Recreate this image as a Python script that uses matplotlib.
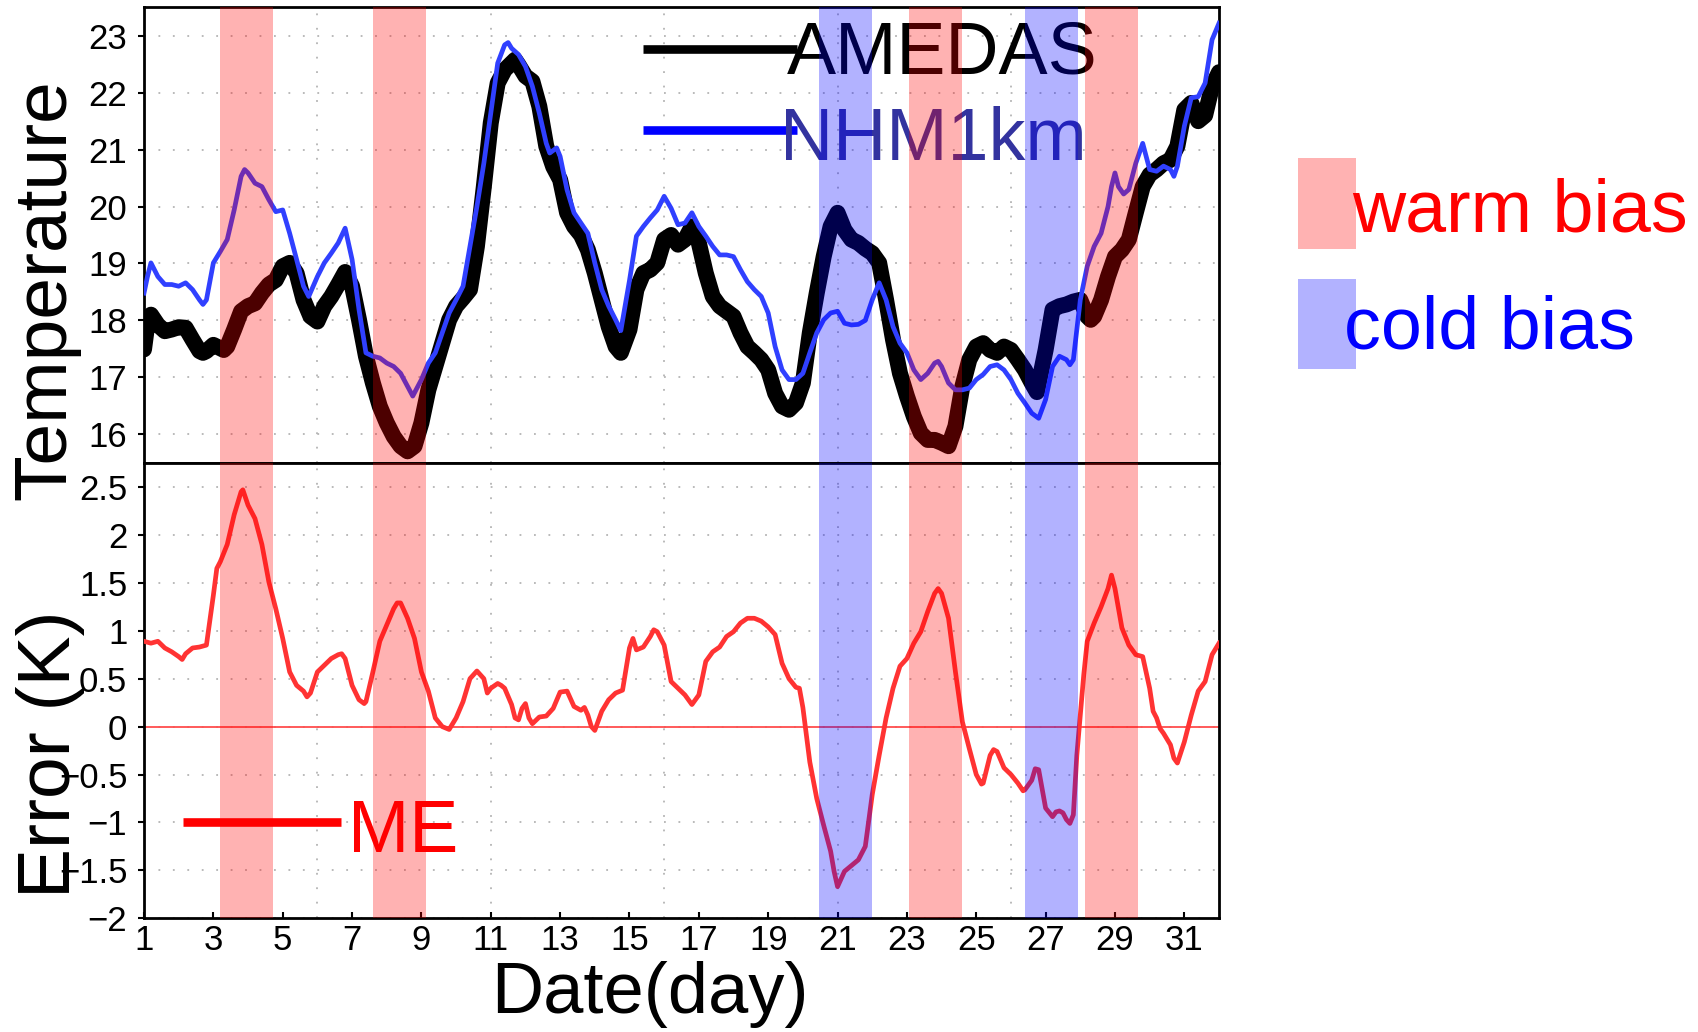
import matplotlib
matplotlib.use("Agg")
import matplotlib.pyplot as plt
from matplotlib.patches import Rectangle
from matplotlib.ticker import FuncFormatter

plt.rcParams['font.family'] = ['Liberation Sans', 'DejaVu Sans']
plt.rcParams['axes.unicode_minus'] = True

# ---- observed temperature (AMEDAS) ----
amedas_day = [1.0, 1.1, 1.2, 1.4, 1.6, 1.8, 2.0, 2.2, 2.4, 2.6, 2.7, 2.8, 3.0, 3.2, 3.3, 3.4,
              3.6, 3.8, 4.0, 4.2, 4.4, 4.6, 4.8, 5.0, 5.2, 5.4, 5.6, 5.8, 6.0, 6.2, 6.4, 6.6,
              6.8, 7.0, 7.2, 7.4, 7.6, 7.8, 8.0, 8.2, 8.4, 8.6, 8.8, 9.0, 9.2, 9.4, 9.6, 9.8,
              10.0, 10.2, 10.4, 10.6, 10.8, 11.0, 11.2, 11.4, 11.6, 11.7, 11.8, 12.0, 12.2,
              12.4, 12.6, 12.8, 13.0, 13.2, 13.4, 13.6, 13.8, 14.0, 14.2, 14.4, 14.6, 14.75,
              15.0, 15.2, 15.4, 15.6, 15.8, 16.0, 16.2, 16.4, 16.6, 16.8, 17.0, 17.2, 17.4,
              17.6, 17.8, 18.0, 18.2, 18.4, 18.6, 18.8, 19.0, 19.2, 19.4, 19.6, 19.8, 20.0,
              20.2, 20.4, 20.6, 20.8, 21.0, 21.2, 21.4, 21.6, 21.8, 22.0, 22.2, 22.4, 22.6,
              22.8, 23.0, 23.2, 23.4, 23.6, 23.8, 24.0, 24.2, 24.4, 24.6, 24.8, 25.0, 25.2,
              25.4, 25.6, 25.8, 26.0, 26.2, 26.4, 26.6, 26.75, 27.0, 27.2, 27.4, 27.6, 27.8,
              28.0, 28.2, 28.3, 28.4, 28.6, 28.8, 29.0, 29.2, 29.4, 29.6, 29.8, 30.0, 30.2,
              30.4, 30.6, 30.8, 31.0, 31.2, 31.4, 31.6, 31.8, 32.0]
amedas_temp = [17.49, 17.95, 18.10, 17.92, 17.81, 17.84, 17.88, 17.87, 17.66, 17.46, 17.43, 17.46,
               17.57, 17.51, 17.48, 17.54, 17.84, 18.16, 18.25, 18.30, 18.48, 18.63, 18.71, 18.95,
               19.01, 18.83, 18.36, 18.07, 17.98, 18.25, 18.42, 18.63, 18.85, 18.60, 18.01, 17.37,
               16.90, 16.49, 16.20, 15.96, 15.79, 15.70, 15.79, 16.20, 16.78, 17.19, 17.60, 18.01,
               18.25, 18.39, 18.54, 19.30, 20.35, 21.47, 22.17, 22.40, 22.52, 22.58, 22.49, 22.29,
               22.20, 21.76, 21.06, 20.70, 20.47, 19.89, 19.65, 19.50, 19.24, 18.83, 18.36, 17.89,
               17.54, 17.43, 17.84, 18.54, 18.83, 18.89, 19.01, 19.42, 19.50, 19.33, 19.42, 19.65,
               19.36, 18.83, 18.42, 18.25, 18.16, 18.07, 17.78, 17.54, 17.43, 17.31, 17.13, 16.72,
               16.49, 16.43, 16.55, 16.90, 17.78, 18.48, 19.12, 19.65, 19.89, 19.59, 19.42, 19.36,
               19.26, 19.18, 19.01, 18.36, 17.66, 17.07, 16.67, 16.31, 16.02, 15.90, 15.90, 15.85,
               15.79, 16.14, 16.84, 17.31, 17.54, 17.60, 17.48, 17.43, 17.54, 17.48, 17.31, 17.13,
               16.90, 16.74, 17.48, 18.19, 18.25, 18.28, 18.33, 18.36, 18.07, 18.01, 18.07, 18.36,
               18.77, 19.12, 19.24, 19.42, 19.89, 20.35, 20.56, 20.65, 20.76, 20.82, 21.06, 21.70,
               21.82, 21.50, 21.60, 22.11, 22.36]

# ---- model temperature (NHM 1km) ----
nhm_day = [1.0, 1.1, 1.2, 1.4, 1.6, 1.8, 2.0, 2.2, 2.4, 2.6, 2.7, 2.8, 3.0, 3.2, 3.4, 3.6, 3.8,
           3.9, 4.0, 4.2, 4.4, 4.6, 4.8, 5.0, 5.2, 5.4, 5.6, 5.75, 6.0, 6.2, 6.4, 6.6, 6.8, 7.0,
           7.2, 7.4, 7.6, 7.8, 8.0, 8.2, 8.4, 8.6, 8.75, 9.0, 9.2, 9.4, 9.6, 9.8, 10.0, 10.2,
           10.4, 10.6, 10.8, 11.0, 11.2, 11.4, 11.5, 11.6, 11.8, 12.0, 12.2, 12.4, 12.6, 12.7,
           12.9, 13.0, 13.2, 13.4, 13.6, 13.8, 14.0, 14.2, 14.4, 14.6, 14.75, 15.0, 15.2, 15.4,
           15.6, 15.8, 16.0, 16.2, 16.4, 16.6, 16.8, 17.0, 17.2, 17.4, 17.6, 17.8, 18.0, 18.2,
           18.4, 18.6, 18.8, 19.0, 19.2, 19.4, 19.6, 19.8, 20.0, 20.2, 20.4, 20.6, 20.8, 21.0,
           21.2, 21.4, 21.6, 21.8, 22.0, 22.2, 22.4, 22.6, 22.8, 23.0, 23.2, 23.4, 23.6, 23.8,
           23.9, 24.0, 24.2, 24.4, 24.6, 24.8, 25.0, 25.2, 25.4, 25.6, 25.8, 26.0, 26.2, 26.4,
           26.6, 26.8, 27.0, 27.2, 27.4, 27.6, 27.7, 27.8, 28.0, 28.2, 28.4, 28.6, 28.8, 28.9,
           29.0, 29.1, 29.25, 29.4, 29.6, 29.8, 30.0, 30.2, 30.4, 30.6, 30.7, 30.8, 31.0, 31.2,
           31.4, 31.6, 31.8, 32.0]
nhm_temp = [18.48, 18.77, 19.01, 18.77, 18.63, 18.63, 18.60, 18.66, 18.54, 18.36, 18.28, 18.36,
            19.01, 19.21, 19.42, 19.94, 20.53, 20.65, 20.59, 20.41, 20.35, 20.12, 19.91, 19.94,
            19.53, 19.07, 18.60, 18.42, 18.77, 19.01, 19.18, 19.36, 19.62, 19.07, 18.19, 17.43,
            17.37, 17.34, 17.25, 17.19, 17.07, 16.84, 16.67, 16.96, 17.25, 17.43, 17.78, 18.13,
            18.36, 18.60, 19.30, 20.00, 20.76, 21.64, 22.52, 22.84, 22.88, 22.78, 22.67, 22.46,
            22.11, 21.64, 21.11, 20.94, 21.03, 20.88, 20.29, 19.89, 19.71, 19.53, 19.01, 18.54,
            18.25, 18.01, 17.82, 18.70, 19.48, 19.65, 19.80, 19.94, 20.18, 19.97, 19.68, 19.71,
            19.89, 19.65, 19.48, 19.30, 19.15, 19.15, 19.12, 18.89, 18.68, 18.54, 18.42, 18.13,
            17.54, 17.13, 16.96, 16.96, 17.07, 17.43, 17.78, 18.01, 18.13, 18.16, 17.95, 17.92,
            17.93, 18.00, 18.36, 18.66, 18.36, 17.89, 17.60, 17.43, 17.13, 16.96, 17.07, 17.25,
            17.28, 17.19, 16.90, 16.78, 16.78, 16.81, 16.96, 17.05, 17.19, 17.22, 17.13, 16.96,
            16.72, 16.55, 16.37, 16.28, 16.61, 17.19, 17.37, 17.31, 17.22, 17.31, 18.36, 18.95,
            19.30, 19.53, 20.00, 20.35, 20.59, 20.35, 20.22, 20.30, 20.76, 21.11, 20.65, 20.62,
            20.71, 20.65, 20.53, 20.71, 21.41, 21.91, 21.93, 22.17, 22.93, 23.22]

# ---- mean error (model minus observation) ----
me_day = [1.0, 1.2, 1.4, 1.6, 1.8, 2.0, 2.1, 2.2, 2.4, 2.6, 2.8, 3.0, 3.1, 3.2, 3.4, 3.6, 3.8,
          3.85, 4.0, 4.2, 4.4, 4.6, 4.8, 5.0, 5.2, 5.4, 5.6, 5.7, 5.8, 6.0, 6.2, 6.4, 6.6, 6.7,
          6.8, 7.0, 7.2, 7.35, 7.4, 7.6, 7.8, 8.0, 8.2, 8.3, 8.4, 8.6, 8.8, 9.0, 9.2, 9.4, 9.6,
          9.8, 10.0, 10.2, 10.4, 10.6, 10.8, 10.9, 11.0, 11.2, 11.3, 11.4, 11.6, 11.7, 11.8,
          11.9, 12.0, 12.1, 12.2, 12.4, 12.6, 12.8, 13.0, 13.2, 13.4, 13.6, 13.7, 13.8, 13.9,
          14.0, 14.2, 14.4, 14.6, 14.8, 15.0, 15.1, 15.2, 15.4, 15.6, 15.7, 15.8, 16.0, 16.2,
          16.4, 16.6, 16.8, 17.0, 17.2, 17.4, 17.6, 17.8, 18.0, 18.2, 18.4, 18.6, 18.8, 19.0,
          19.2, 19.4, 19.6, 19.8, 19.9, 20.0, 20.2, 20.4, 20.6, 20.8, 20.9, 21.0, 21.2, 21.4,
          21.6, 21.8, 22.0, 22.2, 22.4, 22.6, 22.8, 23.0, 23.2, 23.4, 23.6, 23.8, 23.9, 24.0,
          24.2, 24.4, 24.6, 24.8, 25.0, 25.15, 25.2, 25.4, 25.5, 25.6, 25.8, 26.0, 26.2, 26.35,
          26.4, 26.6, 26.7, 26.8, 27.0, 27.2, 27.3, 27.4, 27.5, 27.6, 27.7, 27.8, 27.9, 28.0,
          28.1, 28.2, 28.4, 28.6, 28.8, 28.9, 29.0, 29.2, 29.4, 29.6, 29.8, 30.0, 30.1, 30.2,
          30.3, 30.4, 30.6, 30.7, 30.8, 31.0, 31.2, 31.4, 31.6, 31.8, 32.0]
me_val = [0.89, 0.87, 0.89, 0.82, 0.78, 0.73, 0.70, 0.76, 0.82, 0.83, 0.85, 1.37, 1.65, 1.72,
          1.90, 2.21, 2.45, 2.47, 2.31, 2.17, 1.90, 1.51, 1.23, 0.92, 0.57, 0.43, 0.37, 0.31,
          0.35, 0.57, 0.64, 0.71, 0.75, 0.76, 0.71, 0.43, 0.28, 0.24, 0.26, 0.57, 0.89, 1.06,
          1.23, 1.29, 1.29, 1.13, 0.92, 0.57, 0.37, 0.09, 0.00, -0.03, 0.09, 0.26, 0.50, 0.58,
          0.50, 0.35, 0.40, 0.45, 0.43, 0.40, 0.23, 0.09, 0.07, 0.19, 0.24, 0.09, 0.03, 0.10,
          0.11, 0.19, 0.36, 0.37, 0.21, 0.17, 0.20, 0.12, 0.00, -0.04, 0.16, 0.28, 0.35, 0.38,
          0.82, 0.92, 0.80, 0.83, 0.94, 1.01, 0.99, 0.85, 0.47, 0.40, 0.33, 0.23, 0.33, 0.68,
          0.78, 0.83, 0.94, 0.99, 1.08, 1.13, 1.13, 1.10, 1.04, 0.96, 0.66, 0.50, 0.41, 0.40,
          0.20, -0.37, -0.75, -1.03, -1.30, -1.51, -1.67, -1.51, -1.45, -1.39, -1.25, -0.71,
          -0.30, 0.09, 0.40, 0.63, 0.71, 0.87, 0.99, 1.20, 1.39, 1.44, 1.39, 1.13, 0.57, 0.05,
          -0.23, -0.50, -0.60, -0.59, -0.30, -0.24, -0.26, -0.43, -0.50, -0.59, -0.67, -0.66,
          -0.56, -0.44, -0.45, -0.85, -0.94, -0.89, -0.88, -0.90, -0.97, -1.01, -0.92, -0.30,
          0.12, 0.54, 0.89, 1.08, 1.25, 1.44, 1.58, 1.44, 1.03, 0.85, 0.75, 0.73, 0.40, 0.16,
          0.09, -0.02, -0.07, -0.19, -0.33, -0.38, -0.16, 0.12, 0.37, 0.47, 0.75, 0.87]

# ---- bias periods (day ranges) ----
warm_start = [3.19, 7.60, 23.06, 28.13]
warm_end = [4.71, 9.12, 24.58, 29.65]
cold_start = [20.46, 26.40]
cold_end = [21.98, 27.92]

temp_ticks = [16, 17, 18, 19, 20, 21, 22, 23]
err_ticks = [-2, -1.5, -1, -0.5, 0, 0.5, 1, 1.5, 2, 2.5]
day_ticks = list(range(1, 32, 2))
grid_days = [6, 11, 16, 21, 26]

series_names = ['AMEDAS', 'NHM1km', 'ME']
bias_names = ['warm bias', 'cold bias']

WARM = (1.0, 0.0, 0.0, 0.3)
COLD = (0.0, 0.0, 1.0, 0.3)
GRID_KW = dict(color='#b4b4b4', linestyle=(0, (1, 7)), linewidth=1.3)
TICK_SIZE = 25


def tick_fmt(v, pos):
    return f"{v:g}".replace('-', '\u2212')


fig = plt.figure(figsize=(16.99, 10.32), dpi=100)
ax1 = fig.add_axes([0.08476, 0.55165, 0.63272, 0.44128])
ax2 = fig.add_axes([0.08476, 0.11017, 0.63272, 0.44120])

for ax in (ax1, ax2):
    ax.set_xlim(1, 32)
    for s in ax.spines.values():
        s.set_linewidth(2.0)
    ax.yaxis.grid(True, **GRID_KW)
    ax.set_axisbelow(True)
    for d in grid_days:
        ax.axvline(d, zorder=0.5, **GRID_KW)
    ax.tick_params(axis='y', direction='out', length=4, width=1.5, pad=8,
                   labelsize=TICK_SIZE)
    ax.yaxis.set_major_formatter(FuncFormatter(tick_fmt))
    for a, b in zip(warm_start, warm_end):
        ax.axvspan(a, b, color=WARM, lw=0, zorder=6)
    for a, b in zip(cold_start, cold_end):
        ax.axvspan(a, b, color=COLD, lw=0, zorder=6)

# upper panel: temperatures
ax1.set_ylim(15.5, 23.5)
ax1.set_yticks(temp_ticks)
ax1.set_xticks(day_ticks)
ax1.tick_params(axis='x', length=0, labelbottom=False)
ax1.plot(amedas_day, amedas_temp, color='black', lw=11.5,
         solid_capstyle='round', solid_joinstyle='round', zorder=3)
ax1.plot(nhm_day, nhm_temp, color='#3040ff', lw=3.4, zorder=4)

# in-panel legend for temperatures
ax1.plot([0.4642, 0.6074], [0.909, 0.909], transform=ax1.transAxes,
         color='black', lw=6.2, solid_capstyle='butt', zorder=4)
ax1.plot([0.4642, 0.6074], [0.7305, 0.7305], transform=ax1.transAxes,
         color='blue', lw=6.2, solid_capstyle='butt', zorder=4)
ax1.text(0.598, 0.855, series_names[0], transform=ax1.transAxes, fontsize=53,
         color='black', ha='left', va='baseline', zorder=5)
ax1.text(0.5916, 0.6643, series_names[1], transform=ax1.transAxes, fontsize=53,
         color='#33339f', ha='left', va='baseline', zorder=5)

# lower panel: mean error
ax2.set_ylim(-2, 2.75)
ax2.set_yticks(err_ticks)
ax2.set_xticks(day_ticks)
ax2.tick_params(axis='x', direction='in', length=4, width=1.5, pad=4,
                labelsize=TICK_SIZE)
ax2.axhline(0, color=(1.0, 0.3, 0.3), lw=1.3, zorder=2)
ax2.plot(me_day, me_val, color='#ff3333', lw=3.4, zorder=4)
ax2.plot([0.036, 0.1828], [0.2122, 0.2122], transform=ax2.transAxes,
         color='red', lw=6.2, solid_capstyle='butt', zorder=4)
ax2.text(0.1896, 0.1463, series_names[2], transform=ax2.transAxes, fontsize=53,
         color='red', ha='left', va='baseline', zorder=5)

# axis titles
fig.text(0.0271, 0.719, 'Temperature', rotation=90, fontsize=54, ha='center', va='center')
fig.text(0.0300, 0.2694, 'Error (K)', rotation=90, fontsize=54, ha='center', va='center')
fig.text(0.3826, 0.0184, 'Date(day)', fontsize=52, ha='center', va='baseline')

# bias key on the right
fig.add_artist(Rectangle((0.7642, 0.7584), 0.03396, 0.0882, transform=fig.transFigure,
                         facecolor=WARM, edgecolor='none'))
fig.add_artist(Rectangle((0.7642, 0.6422), 0.03396, 0.0872, transform=fig.transFigure,
                         facecolor=COLD, edgecolor='none'))
fig.text(0.7958, 0.7755, bias_names[0], fontsize=53, color='red', ha='left', va='baseline')
fig.text(0.7909, 0.6625, bias_names[1], fontsize=53, color='blue', ha='left', va='baseline')

fig.savefig('out.png', dpi=100)
